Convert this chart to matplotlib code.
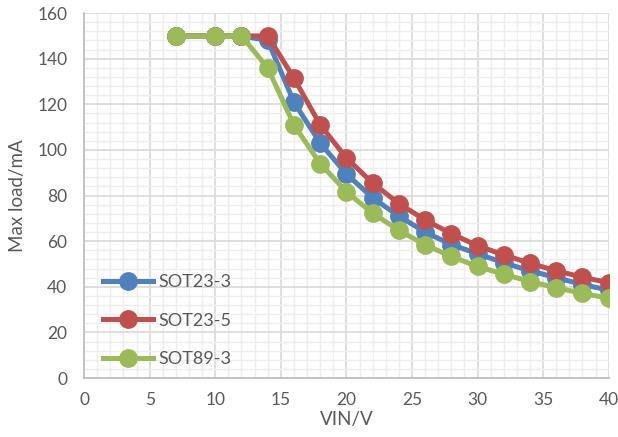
import matplotlib.pyplot as plt
from matplotlib.ticker import MultipleLocator

plt.rcParams['font.family'] = ['Lato', 'DejaVu Sans']

vin = [7, 10, 12, 14, 16, 18, 20, 22, 24, 26, 28, 30, 32, 34, 36, 38, 40]
sot23_3 = [150, 150, 150, 148, 121, 103, 89.5, 79, 71, 64, 58.5, 54.5, 50.5, 47, 44, 41, 38.5]
sot23_5 = [150, 150, 150, 150, 131.5, 111, 96.5, 85.5, 76.5, 69.3, 63.3, 58, 54, 50.3, 47, 44.2, 41.8]
sot89_3 = [150, 150, 150, 136, 111, 94, 81.7, 72.2, 64.8, 58.4, 53.3, 48.9, 45.5, 42.3, 39.6, 37.1, 35]

series = [("SOT23-3", sot23_3, "#4F81BD"),
          ("SOT23-5", sot23_5, "#C0504D"),
          ("SOT89-3", sot89_3, "#9BBB59")]

fig = plt.figure(figsize=(6.18, 4.37), dpi=100)
ax = fig.add_axes([0.136, 0.135, 0.849, 0.835])

for name, vals, color in series:
    ax.plot(vin, vals, color=color, linewidth=3.6, marker='o', markersize=12.5, label=name)

ax.set_xlim(0, 40)
ax.set_ylim(0, 160)
ax.xaxis.set_major_locator(MultipleLocator(5))
ax.xaxis.set_minor_locator(MultipleLocator(1))
ax.yaxis.set_major_locator(MultipleLocator(20))
ax.yaxis.set_minor_locator(MultipleLocator(4))
ax.grid(which='minor', color='#EEEEEE', linewidth=1.0)
ax.grid(which='major', color='#D9D9D9', linewidth=1.2)
ax.set_axisbelow(True)
ax.tick_params(which='both', length=0, labelsize=12.5, labelcolor='#595959')
ax.tick_params(axis='x', pad=10)
ax.tick_params(axis='y', pad=12)
for s in ax.spines.values():
    s.set_visible(False)
for side in ('left', 'bottom'):
    ax.spines[side].set_visible(True)
    ax.spines[side].set_color('#BFBFBF')
    ax.spines[side].set_linewidth(1.3)

ax.set_xlabel('VIN/V', fontsize=13.5, color='#595959', labelpad=2)
ax.set_ylabel('Max load/mA', fontsize=13.5, color='#595959', labelpad=8)

leg = ax.legend(loc='lower left', bbox_to_anchor=(0.005, -0.015), frameon=False,
                fontsize=13, handlelength=2.8, handletextpad=0.3, labelspacing=1.25,
                labelcolor='#595959')

fig.savefig('out.png', dpi=100)
